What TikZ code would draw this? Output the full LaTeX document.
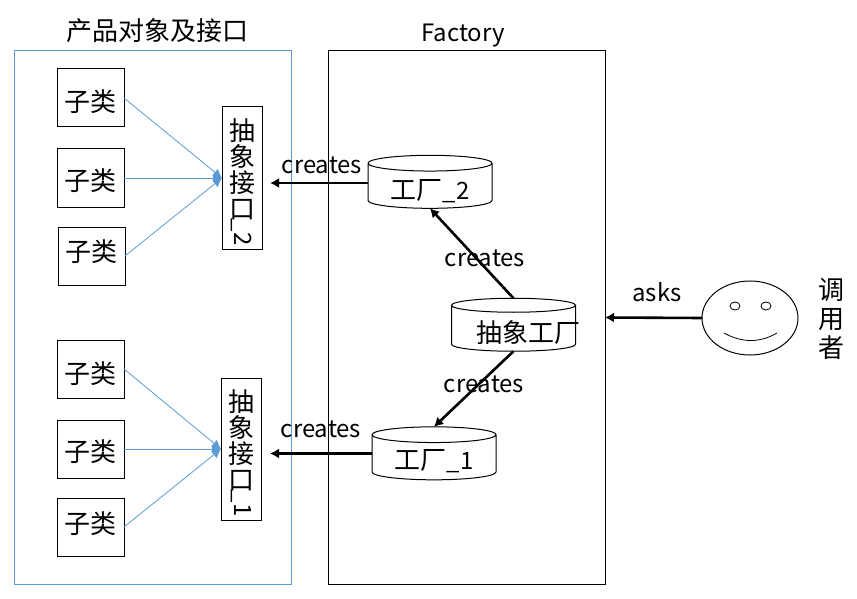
\documentclass[tikz,border=0pt]{standalone}
\usepackage{fontspec}
\usepackage{graphicx}
\usepackage{tikz}
\setmainfont{Noto Sans CJK SC}
\newfontfamily\latintext[Scale=.92]{Noto Sans CJK SC}
\usetikzlibrary{arrows.meta,positioning,shapes.geometric}
\definecolor{skyline}{HTML}{5B9BD5}
\newcommand{\settext}[2]{\raisebox{#1}[0pt][0pt]{#2}}
\newcommand{\sideways}[1]{\raisebox{5pt}[10pt][0pt]{\rotatebox[origin=c]{-90}{\latintext\_#1}}}
\tikzset{
  every node/.style={font=\fontsize{26}{26}\selectfont,inner sep=0pt,outer sep=0pt},
  subbox/.style={draw,line width=1pt,minimum width=67pt,minimum height=58pt},
  ifacebox/.style={draw,line width=1pt,minimum width=40pt,minimum height=142pt,align=center},
  cyl/.style={draw,line width=1pt,cylinder,shape border rotate=90,aspect=.2,minimum width=124pt,minimum height=53pt},
  panel/.style={draw,line width=1pt,minimum width=277pt,minimum height=533pt},
  inherit/.style={draw=skyline,line width=.8pt,-{Latex[length=9pt,width=9pt]}},
  creates/.style={line width=2.6pt,-{Latex[length=9pt,width=10pt]}},
  word/.style={font=\fontsize{26}{26}\latintext},
}
\begin{document}
\begin{tikzpicture}[x=1pt,y=-1pt,node distance=22pt]
  \useasboundingbox (0,0) rectangle (857,599);
  \node[panel,draw=skyline] (prod) at (152.5,317.5) {};
  \node[panel] (fact) at (466.5,317.5) {};
  \node at (157,31) (prodt) {产品对象及接口};
  \node[word] at (463,36) (factt) {Factory};
  % upper group
  \node[subbox] (a1) at (90.5,98) {\settext{-14pt}{子类}};
  \node[subbox,below=of a1] (a2) {\settext{-13pt}{子类}};
  \node[subbox] (a3) at (91.5,256) {\settext{-5pt}{子类}};
  \node[ifacebox] (ia) at (242,178) {\rule{0pt}{28pt}抽\\象\\接\\口\\\sideways{2}};
  % lower group
  \node[subbox] (b1) at (90.5,369) {\settext{-14pt}{子类}};
  \node[subbox,below=of b1] (b2) {\settext{-12pt}{子类}};
  \node[subbox] (b3) at (90.5,527) {\settext{-6pt}{子类}};
  \node[ifacebox] (ib) at (241,449) {\rule{0pt}{28pt}抽\\象\\接\\口\\\sideways{1}};
  \foreach \x/\y in {a1/ia,a2/ia,a3/ia,b1/ib,b2/ib,b3/ib} \draw[inherit] (\x.east)--(\y.west);
  % factories
  \node[cyl] (f2) at (430,186) {\settext{-13pt}{工厂{\latintext\_2}}};
  \node[cyl] (abs) at (513.5,328.5) {\makebox[70pt]{\hspace{29pt}\settext{-13.5pt}{抽象工厂}}};
  \node[cyl] (f1) at (434,457.5) {\settext{-11.5pt}{工厂{\latintext\_1}}};
  \coordinate (f2w) at ([yshift=3pt]f2.west);
  \coordinate (f1w) at ([yshift=4pt]f1.west);
  \draw[creates] (abs.north)--(f2.south);
  \draw[creates] (abs.south)--(f1.north);
  \draw[creates,shorten >=8pt] (f2w)--(f2w-|ia.east);
  \draw[creates,shorten >=9pt] (f1w)--(f1w-|ib.east);
  \node[word] at (322,165) (c1) {creates};
  \node[word] at (485,258) (c2) {creates};
  \node[word] at (484,384) (c3) {creates};
  \node[word] at (321,429) (c4) {creates};
  % caller
  \node[draw,line width=1pt,ellipse,minimum width=96pt,minimum height=74pt] (face) at (750,318) {};
  \node[draw,line width=.8pt,ellipse,minimum width=10pt,minimum height=8pt] (eyel) at (735,306) {};
  \node[draw,line width=.8pt,ellipse,minimum width=10pt,minimum height=8pt] (eyer) at (766,306) {};
  \draw[line width=.8pt] (724,333) .. controls (742,343) and (760,343) .. (777,333);
  \draw[creates] (face.west)--(fact.east);
  \node[word] at (657,292) (asks) {asks};
  \node[align=center,font=\fontsize{26}{29}\selectfont] (caller) at (831,319) {调\\用\\者};
\end{tikzpicture}
\end{document}
